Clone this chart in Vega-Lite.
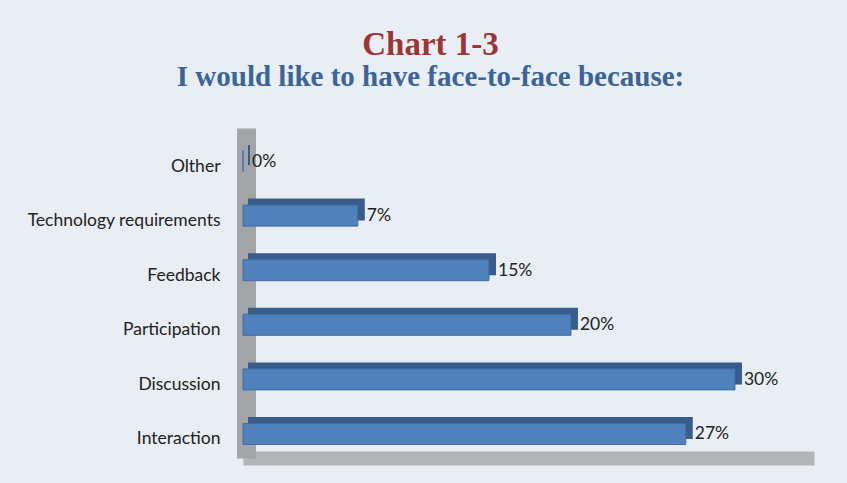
{
  "$schema": "https://vega.github.io/schema/vega-lite/v6.json",
  "autosize": {"type": "none"},
  "padding": {"left": 243, "top": 128, "right": 33, "bottom": 25},
  "width": 571,
  "height": 330,
  "background": "#E9EDF4",
  "config": {"view": {"stroke": null}},
  "title": {
    "text": "Chart 1-3",
    "subtitle": "I would like to have face-to-face because:",
    "anchor": "middle",
    "frame": "group",
    "dx": -98,
    "offset": 36,
    "font": "Liberation Serif",
    "fontSize": 33,
    "fontWeight": "bold",
    "color": "#9B3634",
    "subtitleFont": "Liberation Serif",
    "subtitleFontSize": 29,
    "subtitleFontWeight": "bold",
    "subtitleColor": "#3B6497",
    "subtitlePadding": 1
  },
  "data": {
    "values": [
      {"category": "Olther", "value": 0},
      {"category": "Technology requirements", "value": 0.07},
      {"category": "Feedback", "value": 0.15},
      {"category": "Participation", "value": 0.20},
      {"category": "Discussion", "value": 0.30},
      {"category": "Interaction", "value": 0.27}
    ]
  },
  "encoding": {
    "y": {
      "field": "category",
      "type": "nominal",
      "sort": null,
      "scale": {"paddingInner": 0.615, "paddingOuter": 0.33},
      "axis": {
        "title": null,
        "ticks": false,
        "domain": true,
        "domainColor": "#A3A4A8",
        "domainWidth": 19,
        "offset": -3,
        "labelPadding": 26,
        "labelFont": "Lato",
        "labelFontSize": 17.5,
        "labelColor": "#222222",
        "labelOffset": 10,
        "labelLimit": 300,
        "zindex": 0
      }
    },
    "x": {
      "field": "value",
      "type": "quantitative",
      "scale": {"domain": [0, 0.3482], "nice": false, "zero": true},
      "axis": {
        "title": null,
        "labels": false,
        "ticks": false,
        "grid": false,
        "domain": true,
        "domainColor": "#B3B5B9",
        "domainWidth": 14,
        "zindex": 0
      }
    }
  },
  "layer": [
    {
      "mark": {"type": "bar", "color": "#385D8A", "stroke": "#385D8A", "strokeWidth": 2, "xOffset": 6, "yOffset": -1.5, "size": 20}
    },
    {
      "mark": {"type": "bar", "color": "#4F81BD", "stroke": "#3F6DA5", "strokeWidth": 1, "yOffset": 4.5, "size": 21}
    },
    {
      "mark": {"type": "text", "align": "left", "baseline": "middle", "dx": 9, "dy": 5, "font": "Lato", "fontSize": 17.5, "color": "#222222"},
      "encoding": {"text": {"field": "value", "type": "quantitative", "format": ".0%"}}
    }
  ]
}
